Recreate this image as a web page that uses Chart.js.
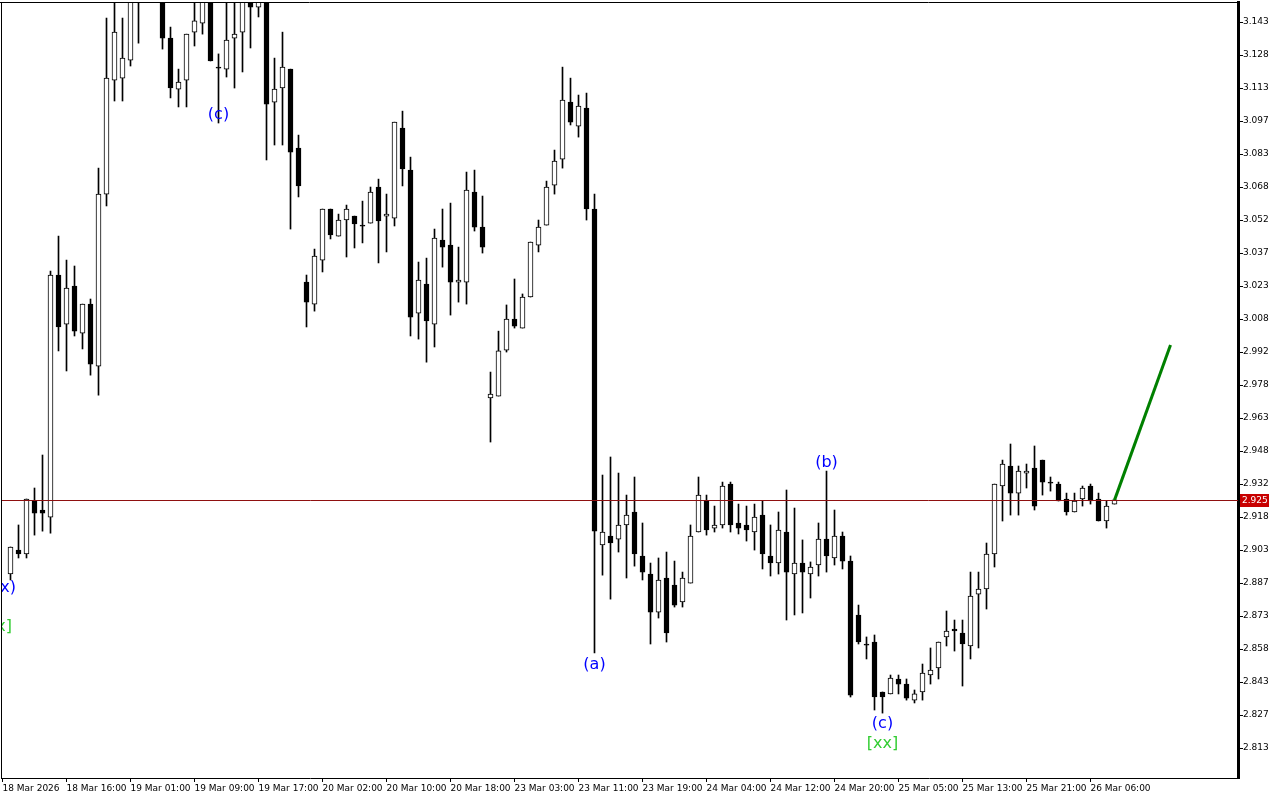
<!DOCTYPE html>
<html>
<head>
<meta charset="utf-8">
<script src="https://cdn.jsdelivr.net/npm/chart.js@4.4.1/dist/chart.umd.min.js"></script>
<style>
html,body{margin:0;padding:0;background:#ffffff;}
canvas{display:block;}
</style>
</head>
<body>
<canvas id="c" width="1280" height="800"></canvas>
<script>
// ---- H1 candles (index 0 = first fully visible bar) ----
const opens = [
2.8921,2.9030,2.9012,2.9253,2.9212,2.9180,3.0280,3.0057,3.0230,3.0016,
3.0148,2.9866,3.0648,3.1166,3.1175,3.1257,3.1560,3.1600,3.1580,3.1560,
3.1357,3.1125,3.1166,3.1384,3.1425,3.1544,3.1225,3.1216,3.1357,3.1384,
3.1545,3.1498,3.1545,3.1066,3.1130,3.1216,3.0857,3.0248,3.0148,3.0348,
3.0580,3.0457,3.0530,3.0548,3.0507,3.0516,3.0680,3.0548,3.0539,3.0948,
3.0757,3.0107,3.0239,3.0057,3.0439,3.0416,3.0248,3.0248,3.0657,3.0498,
2.9721,2.9730,2.9939,3.0080,3.0039,3.0180,3.0416,3.0507,3.0689,3.0807,
3.1066,3.0957,3.1039,3.0580,2.9053,2.9094,2.9080,2.9144,2.9203,2.9003,
2.8921,2.8748,2.8903,2.8871,2.8794,2.8880,2.9112,2.9253,2.9130,2.9144,
2.9330,2.9153,2.9144,2.9112,2.9189,2.9003,2.8971,2.9112,2.8921,2.8971,
2.8921,2.8962,2.9080,2.8994,2.9094,2.8980,2.8735,2.8603,2.8612,2.8385,
2.8376,2.8444,2.8421,2.8348,2.8385,2.8462,2.8494,2.8635,2.8671,2.8653,
2.8594,2.8830,2.8853,2.9012,2.9321,2.9412,2.9289,2.9380,2.9403,2.9439,
2.9339,2.9330,2.9262,2.9203,2.9262,2.9321,2.9262,2.9162,2.9239
];
const closes = [
2.9044,2.9012,2.9262,2.9198,2.9198,3.0280,3.0044,3.0221,3.0025,3.0148,
2.9875,3.0648,3.1175,3.1384,3.1266,3.1539,3.1600,3.1580,3.1620,3.1357,
3.1130,3.1157,3.1375,3.1435,3.1544,3.1253,3.1220,3.1348,3.1375,3.1539,
3.1498,3.1525,3.1057,3.1125,3.1225,3.0839,3.0685,3.0157,3.0366,3.0580,
3.0462,3.0530,3.0580,3.0512,3.0502,3.0657,3.0526,3.0557,3.0975,3.0762,
3.0089,3.0257,3.0071,3.0448,3.0407,3.0248,3.0257,3.0666,3.0498,3.0407,
2.9739,2.9935,3.0080,3.0048,3.0180,3.0430,3.0498,3.0680,3.0798,3.1075,
3.0975,3.1048,3.0580,2.9116,2.9112,2.9062,2.9144,2.9189,2.9012,2.8930,
2.8748,2.8894,2.8653,2.8780,2.8903,2.9094,2.9280,2.9121,2.9144,2.9321,
2.9144,2.9130,2.9121,2.9180,2.9012,2.8971,2.9121,2.8930,2.8971,2.8930,
2.8953,2.9080,2.9003,2.9094,2.8980,2.8371,2.8612,2.8598,2.8362,2.8362,
2.8448,2.8421,2.8357,2.8376,2.8471,2.8485,2.8612,2.8662,2.8662,2.8603,
2.8821,2.8853,2.9012,2.9330,2.9421,2.9289,2.9389,2.9389,2.9230,2.9339,
2.9334,2.9253,2.9203,2.9253,2.9312,2.9253,2.9162,2.9230,2.9258
];
const highs = [
2.9044,2.9144,2.9262,2.9312,2.9462,3.0298,3.0457,3.0348,3.0321,3.0148,
3.0171,3.0766,3.1448,3.1553,3.1448,3.1575,3.1650,3.1660,3.1660,3.1580,
3.1407,3.1216,3.1375,3.1540,3.1566,3.1570,3.1285,3.1539,3.1540,3.1560,
3.1570,3.1550,3.1560,3.1266,3.1384,3.1216,3.0916,3.0280,3.0398,3.0580,
3.0580,3.0557,3.0598,3.0548,3.0616,3.0680,3.0716,3.0648,3.0975,3.1025,
3.0816,3.0339,3.0357,3.0489,3.0580,3.0607,3.0407,3.0748,3.0757,3.0639,
2.9839,3.0025,3.0144,3.0262,3.0194,3.0430,3.0530,3.0707,3.0848,3.1225,
3.1175,3.1098,3.1107,3.0648,2.9371,2.9453,2.9380,2.9280,2.9362,2.9153,
2.8971,2.8994,2.9021,2.8980,2.8930,2.9144,2.9362,2.9280,2.9230,2.9339,
2.9339,2.9239,2.9230,2.9239,2.9253,2.9144,2.9203,2.9303,2.9221,2.9076,
2.8976,2.9153,2.9389,2.9212,2.9112,2.9003,2.8780,2.8635,2.8644,2.8385,
2.8462,2.8462,2.8444,2.8394,2.8512,2.8585,2.8612,2.8753,2.8712,2.8712,
2.8930,2.8930,2.9062,2.9330,2.9439,2.9512,2.9412,2.9421,2.9503,2.9439,
2.9362,2.9339,2.9289,2.9289,2.9321,2.9330,2.9289,2.9253,2.9262
];
const lows = [
2.8894,2.8994,2.8994,2.9098,2.9116,2.9107,2.9935,2.9844,3.0003,2.9944,
2.9825,2.9734,3.0594,3.1071,3.1071,3.1230,3.1334,3.1535,3.1540,3.1307,
3.1085,3.1044,3.1044,3.1321,3.1375,3.1253,3.0971,3.1180,3.1130,3.1203,
3.1312,3.1453,3.0803,3.0871,3.0871,3.0489,3.0635,3.0044,3.0116,3.0294,
3.0444,3.0457,3.0362,3.0403,3.0426,3.0516,3.0335,3.0385,3.0503,3.0685,
3.0003,2.9989,2.9884,2.9953,3.0316,3.0098,3.0157,3.0148,3.0480,3.0380,
2.9521,2.9730,2.9930,3.0039,3.0039,3.0180,3.0385,3.0507,3.0648,3.0766,
3.0962,3.0907,3.0530,2.8562,2.8916,2.8807,2.9021,2.8903,2.8957,2.8894,
2.8603,2.8721,2.8612,2.8771,2.8771,2.8880,2.9112,2.9098,2.9112,2.9130,
2.9112,2.9103,2.9071,2.9030,2.8944,2.8912,2.8921,2.8712,2.8735,2.8744,
2.8812,2.8912,2.8930,2.8962,2.8944,2.8362,2.8603,2.8535,2.8303,2.8289,
2.8376,2.8376,2.8348,2.8335,2.8348,2.8421,2.8444,2.8594,2.8571,2.8412,
2.8535,2.8585,2.8762,2.8953,2.9162,2.9189,2.9189,2.9312,2.9212,2.9280,
2.9298,2.9253,2.9189,2.9203,2.9230,2.9239,2.9162,2.9130,2.9239
];

// ---- axis ticks ----
const xTickIndex = [-1,7,15,23,31,39,47,55,63,71,79,87,95,103,111,119,127,135];
const xTickLabels = ['18 Mar 2026','18 Mar 16:00','19 Mar 01:00','19 Mar 09:00','19 Mar 17:00',
  '20 Mar 02:00','20 Mar 10:00','20 Mar 18:00','23 Mar 03:00','23 Mar 11:00','23 Mar 19:00',
  '24 Mar 04:00','24 Mar 12:00','24 Mar 20:00','25 Mar 05:00','25 Mar 13:00','25 Mar 21:00','26 Mar 06:00'];
const yTickValues = [3.143,3.128,3.113,3.098,3.083,3.068,3.053,3.038,3.023,3.008,2.993,2.978,
  2.963,2.948,2.933,2.918,2.903,2.888,2.873,2.858,2.843,2.828,2.813];
const yTickLabels = ['3.143','3.128','3.113','3.097','3.083','3.068','3.052','3.037','3.023','3.008',
  '2.992','2.978','2.963','2.948','2.932','2.918','2.903','2.887','2.873','2.858','2.843','2.827','2.813'];

// ---- forecast line and current price ----
const forecastIndex = [138, 145];
const forecastPrice = [2.9257, 2.9962];
const currentPrice = 2.9258;
const currentPriceLabel = '2.925';

// ---- wave labels ----
const waveText  = ['(x)', '[xx]', '(c)', '(a)', '(b)', '(c)', '[xx]'];
const waveIndex = [-0.7, -1.78, 26, 73, 102, 109, 109];
const wavePrice = [2.8858, 2.8681, 3.1008, 2.8508, 2.9426, 2.8240, 2.8149];
const waveColor = ['#0000ff', '#32cd32', '#0000ff', '#0000ff', '#0000ff', '#0000ff', '#32cd32'];

// ---- build datasets ----
const idx = opens.map((_, i) => i);
const bodies = idx.map(i => ({x: i, y: [opens[i], closes[i]]}));
const wicks = idx.map(i => ({x: i, y: [lows[i], highs[i]]}));
const bodyFill = idx.map(i => closes[i] >= opens[i] ? '#ffffff' : '#000000');
const forecast = forecastIndex.map((x, k) => ({x: x, y: forecastPrice[k]}));

const FONT = 'DejaVu Sans';

const overlay = {
  id: 'overlay',
  afterDatasetsDraw(chart) {
    const {ctx, chartArea: a, scales} = chart;
    ctx.save();
    // current price line
    const py = Math.round(scales.y.getPixelForValue(currentPrice)) + 0.5;
    ctx.strokeStyle = '#8f1010';
    ctx.lineWidth = 1;
    ctx.beginPath();
    ctx.moveTo(a.left, py);
    ctx.lineTo(a.right, py);
    ctx.stroke();
    // wave labels
    ctx.beginPath();
    ctx.rect(a.left, a.top, a.right - a.left, a.bottom - a.top);
    ctx.clip();
    ctx.font = '16px "' + FONT + '"';
    ctx.textAlign = 'center';
    ctx.textBaseline = 'middle';
    waveText.forEach((t, k) => {
      ctx.fillStyle = waveColor[k];
      ctx.fillText(t, scales.x.getPixelForValue(waveIndex[k]), scales.y.getPixelForValue(wavePrice[k]));
    });
    ctx.restore();
  },
  afterDraw(chart) {
    const {ctx, chartArea: a, scales} = chart;
    ctx.save();
    // frame: top and left
    ctx.strokeStyle = '#000000';
    ctx.lineWidth = 1;
    ctx.beginPath();
    ctx.moveTo(0, a.top + 0.5);
    ctx.lineTo(a.right, a.top + 0.5);
    ctx.moveTo(a.left + 0.5, a.top);
    ctx.lineTo(a.left + 0.5, a.bottom);
    ctx.stroke();
    // price tag
    const py = Math.round(scales.y.getPixelForValue(currentPrice));
    ctx.fillStyle = '#c80000';
    ctx.fillRect(a.right + 2, py - 6, 29, 13);
    ctx.fillStyle = '#ffffff';
    ctx.font = '9px "' + FONT + '"';
    ctx.textAlign = 'left';
    ctx.textBaseline = 'middle';
    ctx.fillText(currentPriceLabel, a.right + 4, py + 0.5);
    ctx.restore();
  }
};

new Chart(document.getElementById('c').getContext('2d'), {
  type: 'bar',
  data: {
    datasets: [
      {type: 'bar', data: wicks, backgroundColor: '#000000', borderWidth: 0,
       barThickness: 1, grouped: false, order: 3, clip: 0},
      {type: 'bar', data: bodies, backgroundColor: bodyFill, borderColor: '#000000',
       borderWidth: 1, borderSkipped: false, barThickness: 5, grouped: false, order: 2, clip: 0},
      {type: 'line', data: forecast, borderColor: '#008000', borderWidth: 3,
       pointRadius: 0, fill: false, order: 1}
    ]
  },
  options: {
    responsive: false,
    animation: false,
    devicePixelRatio: 1,
    layout: {padding: {left: 1, top: 2, right: 0, bottom: 0}},
    plugins: {legend: {display: false}, tooltip: {enabled: false}},
    scales: {
      x: {
        type: 'linear', min: -1.1875, max: 153.4375, offset: false, bounds: 'data',
        grid: {display: true, offset: false, drawOnChartArea: false, drawTicks: true, tickLength: 4, color: '#000000'},
        border: {display: true, color: '#000000', width: 1},
        ticks: {autoSkip: false, maxRotation: 0, minRotation: 0, align: 'start', padding: 1,
          color: '#000000', font: {family: FONT, size: 9},
          callback: (v, i) => xTickLabels[i]},
        afterBuildTicks: s => { s.ticks = xTickIndex.map(v => ({value: v})); },
        afterFit: s => { s.height = 22; s.paddingLeft = 0; s.paddingRight = 0; }
      },
      y: {
        type: 'linear', position: 'right', min: 2.7994, max: 3.1521, bounds: 'data',
        grid: {display: true, drawOnChartArea: false, drawTicks: true, tickLength: 5, color: '#000000'},
        border: {display: true, color: '#000000', width: 3},
        ticks: {autoSkip: false, padding: 0, color: '#000000', font: {family: FONT, size: 9},
          callback: (v, i) => yTickLabels[i]},
        afterBuildTicks: s => { s.ticks = yTickValues.map(v => ({value: v})); },
        afterFit: s => { s.width = 42; s.paddingTop = 0; s.paddingBottom = 0; }
      }
    }
  },
  plugins: [overlay]
});
</script>
</body>
</html>
